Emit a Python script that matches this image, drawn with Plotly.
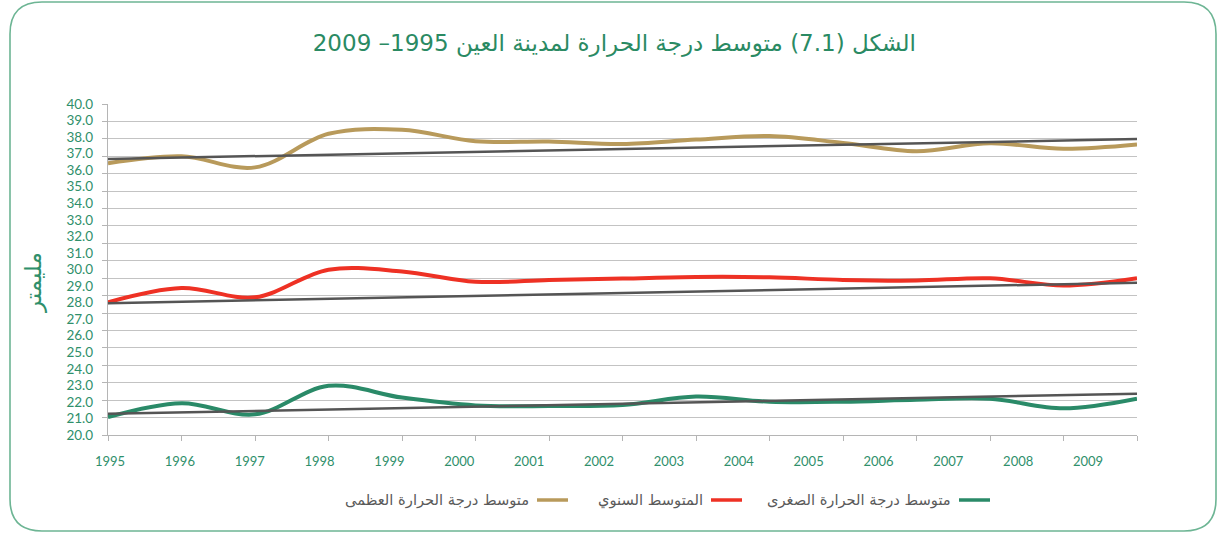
import plotly.graph_objects as go

# ---------------- data ----------------
years = list(range(1995, 2010))
tmax = [36.42, 36.84, 36.17, 38.20, 38.44, 37.75, 37.73, 37.59, 37.85, 38.06, 37.65, 37.15, 37.63, 37.29, 37.55]
tavg = [28.02, 28.88, 28.32, 29.99, 29.88, 29.26, 29.36, 29.45, 29.55, 29.53, 29.37, 29.33, 29.47, 29.03, 29.47]
tmin = [21.08, 21.92, 21.25, 22.97, 22.26, 21.79, 21.75, 21.81, 22.32, 22.01, 22.01, 22.13, 22.19, 21.61, 22.19]
trend_max = [36.68, 37.88]
trend_avg = [27.96, 29.20]
trend_min = [21.28, 22.50]
y_labels = list(range(20, 41))

names = ["متوسط درجة الحرارة العظمى", "المتوسط السنوي", "متوسط درجة الحرارة الصغرى"]
title_text = "الشكل (7.1) متوسط درجة الحرارة لمدينة العين 1995– 2009"
y_title = "مليمتر"

# ---------------- style ----------------
W, H = 1219, 534
L, R, T, B = 108, 1137, 104, 435
GOLD = "#b89a5b"
RED = "#ee3124"
GREEN = "#2a8a68"
TREND = "#555555"
LABEL_GREEN = "#2f8f6b"
GRID = "#c3c3c3"
AR_FONT = "DejaVu Sans, Noto Sans, sans-serif"
NUM_FONT = "Lato, Open Sans, sans-serif"


def px_x(p):
    return (p - L) / (R - L)


def px_y(p):
    return (B - p) / (B - T)


fig = go.Figure()

series = [(tmax, GOLD), (tavg, RED), (tmin, GREEN)]
for vals, col in series:
    fig.add_trace(go.Scatter(x=years, y=vals, mode="lines",
                             line=dict(color=col, width=4, shape="spline", smoothing=1.0),
                             showlegend=False, hoverinfo="skip"))

for tr in (trend_max, trend_avg, trend_min):
    fig.add_trace(go.Scatter(x=[years[0], years[-1]], y=tr, mode="lines",
                             line=dict(color=TREND, width=2.5),
                             showlegend=False, hoverinfo="skip"))

# x labels are slightly compressed relative to the tick marks (as in the reference)
step_tick = (R - L) / (len(years) - 1)
label_vals = [years[0] + (2 + 69.86 * i) / step_tick for i in range(len(years))]
# gridlines: 20 lines spanning the labelled range
n_grid = 19
grid_vals = [40 - j * 20 / n_grid for j in range(n_grid + 1)]

fig.update_layout(
    width=W, height=H, autosize=False,
    margin=dict(l=L, r=W - R, t=T, b=H - B),
    paper_bgcolor="white", plot_bgcolor="white",
    showlegend=False,
    title=dict(text=title_text, x=0.504, xanchor="center", y=1 - 43 / H, yanchor="middle",
               font=dict(family=AR_FONT, size=23, color="#2a8a63")),
    xaxis=dict(range=[years[0], years[-1]], tickmode="array", tickvals=label_vals,
               ticktext=[str(y) for y in years], ticks="", showgrid=False, zeroline=False,
               showline=True, linecolor="#b5b5b5", linewidth=1.3,
               tickfont=dict(family=NUM_FONT, size=13, color=LABEL_GREEN),
               ticklabelstandoff=14,
               minor=dict(tickmode="array", tickvals=years, ticks="outside", ticklen=5,
                          tickcolor="#b5b5b5", tickwidth=1.2, showgrid=False)),
    yaxis=dict(range=[20, 40], tickmode="array", tickvals=y_labels,
               ticktext=["%.1f" % v for v in y_labels], ticks="", showgrid=False,
               zeroline=False, showline=True, linecolor="#b5b5b5", linewidth=1.3,
               tickfont=dict(family=NUM_FONT, size=13.5, color=LABEL_GREEN),
               ticklabelstandoff=11,
               minor=dict(tickmode="array", tickvals=grid_vals, ticks="outside", ticklen=5,
                          tickcolor="#b5b5b5", tickwidth=1.2, showgrid=True,
                          gridcolor=GRID, gridwidth=1.3)),
)

# y-axis title
fig.add_annotation(text=y_title, xref="paper", yref="paper", x=px_x(33), y=px_y(283),
                   xanchor="center", yanchor="middle",
                   textangle=-90, showarrow=False,
                   font=dict(family=AR_FONT, size=23, color=LABEL_GREEN))

# manual RTL legend (text to the left of the swatch)
leg_y = px_y(500)
legend_items = [(names[2], GREEN, 959, 990, 953),
                (names[1], RED, 711, 742, 705),
                (names[0], GOLD, 537, 568, 531)]
for txt, col, x0, x1, xt in legend_items:
    fig.add_shape(type="line", xref="paper", yref="paper", x0=px_x(x0), x1=px_x(x1),
                  y0=leg_y, y1=leg_y, line=dict(color=col, width=3.5))
    fig.add_annotation(text=txt, xref="paper", yref="paper", x=px_x(xt), y=leg_y,
                       xanchor="right", yanchor="middle", showarrow=False,
                       font=dict(family=AR_FONT, size=14.7, color="#5a5a5a"))

# rounded border
bl, br, bt, bb, rad = 10, 1216, 2, 531, 32
def P(x, y):
    return "%.5f,%.5f" % (px_x(x), px_y(y))
path = ("M " + P(bl + rad, bt) + " L " + P(br - rad, bt) + " Q " + P(br, bt) + " " + P(br, bt + rad) +
        " L " + P(br, bb - rad) + " Q " + P(br, bb) + " " + P(br - rad, bb) +
        " L " + P(bl + rad, bb) + " Q " + P(bl, bb) + " " + P(bl, bb - rad) +
        " L " + P(bl, bt + rad) + " Q " + P(bl, bt) + " " + P(bl + rad, bt) + " Z")
fig.add_shape(type="path", xref="paper", yref="paper", path=path,
              line=dict(color="#6db594", width=1.6), layer="below")

fig.write_html("out.html", config={"displayModeBar": False},
               post_script="document.body.style.margin='0';")
